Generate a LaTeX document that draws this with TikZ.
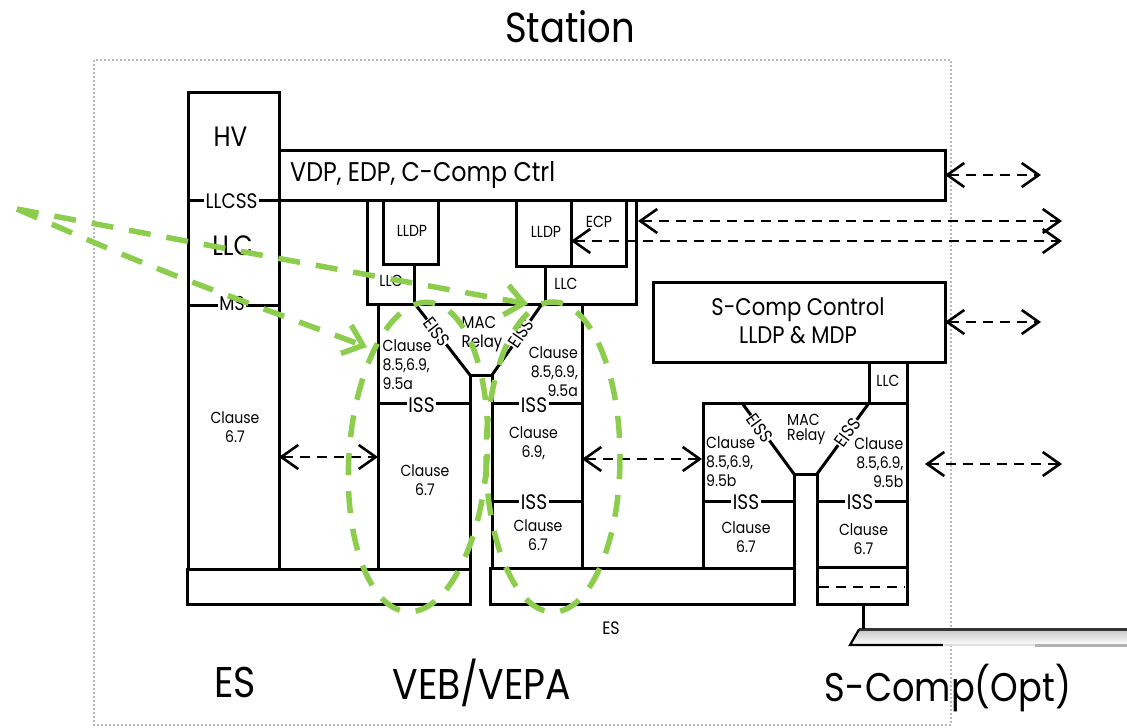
\documentclass[tikz,border=0pt]{standalone}
\usepackage{fontspec}
\setmainfont{Poppins}[FakeStretch=0.88]
\usetikzlibrary{arrows.meta}
\definecolor{grn}{RGB}{140,205,78}
\begin{document}
\begin{tikzpicture}[x=1pt,y=-1pt,
  ln/.style={line width=3pt},
  bx/.style={draw,line width=3pt,inner sep=0pt,outer sep=0pt,anchor=north west},
  lab/.style={fill=white,inner sep=1.5pt},
  elab/.style={fill=white,inner sep=0.3pt,font=\fontsize{18}{21}\selectfont},
  darr/.style={line width=2.6pt,dash pattern=on 10pt off 7pt,
    arrows={Straight Barb[length=17pt,width=24pt]-Straight Barb[length=17pt,width=24pt]}},
  garr/.style={draw=grn,line width=5.5pt,dash pattern=on 22pt off 16pt,
    arrows={-Straight Barb[length=18pt,width=30pt]}},
  gline/.style={draw=grn,line width=5.5pt,dash pattern=on 22pt off 16pt},
  f16/.style={font=\fontsize{16}{19}\selectfont},
  f18/.style={font=\fontsize{18}{21}\selectfont},
  f20/.style={font=\fontsize{20}{24}\selectfont},
  f21/.style={font=\fontsize{21}{25}\selectfont},
  f24/.style={font=\fontsize{24}{28}\selectfont},
  f27/.style={font=\fontsize{27}{32}\selectfont},
  f28/.style={font=\fontsize{28}{32}\selectfont},
  big/.style={font=\fontsize{43}{50}\selectfont},
]
\useasboundingbox[fill=white] (0,0) rectangle (1127,728);

% station frame
\draw[gray!55,line width=2pt,dash pattern=on 2pt off 2pt] (94,60) rectangle (951,725);

% boxes
\node[bx,minimum width=91pt,minimum height=477pt] (hv) at (188,92) {};
\node[bx,minimum width=666pt,minimum height=50pt] (vdp) at (279,150) {};
\node[bx,minimum width=269pt,minimum height=104pt] (cont) at (367,200) {};
\node[bx,minimum width=55pt,minimum height=64pt] (lldpa) at (383,200) {};
\node[bx,minimum width=55pt,minimum height=66pt] (lldpb) at (516,200) {};
\node[bx,minimum width=55pt,minimum height=66pt] (ecp) at (571,200) {};
\node[bx,minimum width=292pt,minimum height=80pt] (scc) at (653,282) {};
\node[bx,minimum width=38pt,minimum height=41pt] (llcc) at (869,362) {};
\node[bx,minimum width=283pt,minimum height=35pt] (bara) at (187,569) {};
\node[bx,minimum width=304pt,minimum height=36pt] (barb) at (490,568) {};
\node[bx,minimum width=90pt,minimum height=37pt] (port) at (817,567) {};

% HV partitions
\draw[ln] (188,200.5) -- (279,200.5);
\draw[ln] (188,305.5) -- (279,305.5);

% LLC parts of the container
\draw[ln] (414,264) -- (414,304);
\draw[ln] (545,266) -- (545,304);

% VEB bridge
\draw[ln] (378,304) -- (378,569);
\draw[ln] (582,304) -- (582,569);
\draw[ln] (470,569) -- (470,375) -- (492,375) -- (492,569);
\draw[ln] (415,304) -- (470,375);
\draw[ln] (492,375) -- (542,304);
\draw[ln] (378,403) -- (470,403);
\draw[ln] (492,403) -- (582,403);
\draw[ln] (492,501) -- (582,501);

% S-Comp bridge
\draw[ln] (703,568) -- (703,403) -- (907,403) -- (907,567);
\draw[ln] (794,568) -- (794,474) -- (817,474) -- (817,567);
\draw[ln] (742,403) -- (794,474);
\draw[ln] (817,474) -- (869,403);
\draw[ln] (703,501) -- (794,501);
\draw[ln] (817,501) -- (907,501);
\draw[line width=2.4pt,dash pattern=on 10pt off 7pt] (819,587) -- (905,587);

% cable
\coordinate (cab) at (863,629);
\shade[top color=gray!45,bottom color=white] (859,629) -- (1127,629) -- (1127,645) -- (850,645) -- cycle;
\draw[gray!40!black,line width=2.6pt] (859,629.5) -- (1127,629.5);
\draw[line width=2.2pt] (859,629.5) -- (850,645) -- (943,645);
\draw[gray!25,line width=2.5pt] (943,645) -- (1035,645);
\draw[gray!60,line width=3pt] (1035,645) -- (1127,645);
\draw[ln] (port.south -| cab) -- (cab);

% texts
\node[font=\fontsize{42}{50}\selectfont,anchor=base] (station) at (570,42) {Station};
\node[big,anchor=base] (es) at (235,697) {ES};
\node[big,anchor=base] (vebt) at (482,699) {VEB/VEPA};
\node[font=\fontsize{40}{48}\selectfont,anchor=base] (sct) at (948,701) {S-Comp(Opt)};
\node[f18] (es2) at (611,628) {ES};

\node[f28] (hvt) at (230.5,137) {HV};
\node[f28] (llct) at (232.5,246) {LLC};
\node[lab,f21] (llcss) at (231.5,201) {LLCSS};
\node[lab,f20] (ms) at (232,303.5) {MS};
\node[f16,align=center] (hvc) at (235,427) {Clause\\6.7};
\node[f27,anchor=base west,inner sep=0pt] (vdpt) at (290,181.5) {VDP, EDP, C-Comp Ctrl};

\node[f16] (lldpat) at (412,231) {LLDP};
\node[f16] (lldpbt) at (546,232) {LLDP};
\node[f16] (ecpt) at (599,221.5) {ECP};
\node[f16] (llcat) at (391,280.5) {LLC};
\node[f16] (llcbt) at (566,283.5) {LLC};
\node[f16] (llcct) at (888,381) {LLC};

\node[f24,align=center] (scct) at (798,321) {S-Comp Control\\LLDP \& MDP};

% VEB texts
\node[f16,align=left,anchor=west,inner sep=0pt] (va1) at (382.5,364.5) {Clause\\8.5,6.9,\\9.5a};
\node[align=left,anchor=west,inner sep=0pt,font=\fontsize{17}{19}\selectfont] (vmac) at (461.5,334) {MAC\\Relay};
\node[f16,align=right,anchor=east,inner sep=0pt] (vb1) at (578,372) {Clause\\8.5,6.9,\\9.5a};
\node[elab,rotate=-52] (veissa) at (436.5,332) {EISS};
\node[elab,rotate=55] (veissb) at (521,333.5) {EISS};
\node[lab,f21] (vissa) at (421.5,405) {ISS};
\node[lab,f21] (vissb) at (534,405) {ISS};
\node[lab,f21] (vissc) at (534,502) {ISS};
\node[f16,align=center] (va2) at (425,480) {Clause\\6.7};
\node[f16,align=center] (vb2) at (533.5,443) {Clause\\6.9,};
\node[f16,align=center] (vb3) at (538,535) {Clause\\6.7};

% S-Comp texts
\node[f16,align=left,anchor=west,inner sep=0pt] (sa1) at (706,462) {Clause\\8.5,6.9,\\9.5b};
\node[align=left,anchor=west,inner sep=0pt,font=\fontsize{16}{15}\selectfont] (smac) at (787,429) {MAC\\Relay};
\node[f16,align=right,anchor=east,inner sep=0pt] (sb1) at (903.5,462.5) {Clause\\8.5,6.9,\\9.5b};
\node[elab,rotate=-54] (seissa) at (760,428) {EISS};
\node[elab,rotate=54] (seissb) at (847.5,432.5) {EISS};
\node[lab,f21] (sissa) at (746,502.5) {ISS};
\node[lab,f21] (sissb) at (860,502.5) {ISS};
\node[f16,align=center] (sa2) at (746,537) {Clause\\6.7};
\node[f16,align=center] (sb2) at (863.5,539) {Clause\\6.7};

% dashed connectors
\coordinate (vdpR) at (1041,175);
\coordinate (sccR) at (1041,322);
\coordinate (e1l) at (638,221);
\coordinate (e1r) at (1062,221);
\coordinate (e2r) at (1062,241);
\coordinate (l1) at (378,457);
\coordinate (m1) at (582,459);
\coordinate (m2) at (702,459);
\coordinate (r1) at (925,464);
\coordinate (r2) at (1062,464);
\draw[darr] (vdp.east) -- (vdpR);
\draw[darr] (scc.east) -- (sccR);
\draw[darr] (e1l) -- (e1r);
\draw[darr] (ecp.west |- e2r) -- (e2r);
\draw[darr] (hv.east |- l1) -- (l1);
\draw[darr] (m1) -- (m2);
\draw[darr] (r1) -- (r2);

% green overlay
\coordinate (gs) at (17,209);
\coordinate (ga) at (528,304);
\coordinate (gb) at (367,347);
\draw[garr] (gs) .. controls (270,257) .. (ga);
\draw[garr] (gs) .. controls (150,267) .. (gb);
\draw[gline,rotate around={-4:(418,457)}] (418,457) ellipse [x radius=69, y radius=155];
\draw[gline] (553,457) ellipse [x radius=67, y radius=155];
\end{tikzpicture}
\end{document}
